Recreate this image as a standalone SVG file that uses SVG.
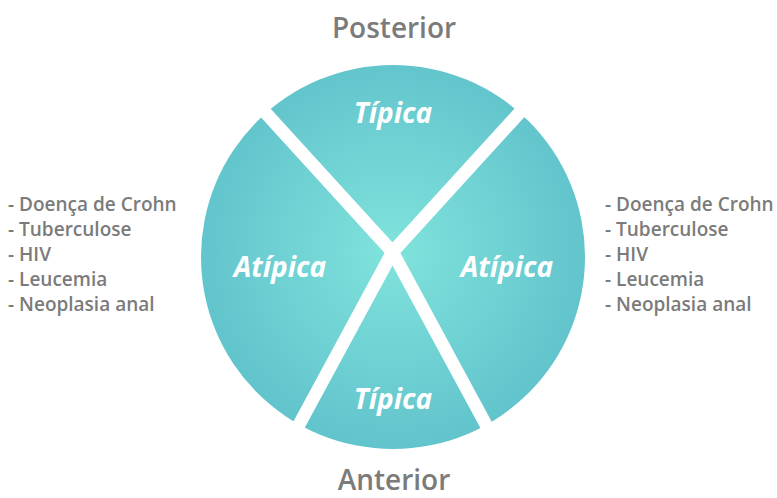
<svg xmlns="http://www.w3.org/2000/svg" width="777" height="498" viewBox="0 0 777 498">
<style>
.seg{font-family:"Open Sans","Liberation Sans",sans-serif;font-weight:700;font-style:italic;fill:#ffffff;text-anchor:middle}
.lbl{font-family:"Open Sans","Liberation Sans",sans-serif;font-weight:600;fill:#7b7b7b}
.ttl{font-family:"Open Sans","Liberation Sans",sans-serif;font-weight:600;fill:#7b7b7b;text-anchor:middle;font-size:28px}
.cut{stroke:#ffffff;stroke-width:13;fill:none;stroke-linecap:butt}
</style>
<defs>
<radialGradient id="g" cx="393" cy="252" r="195" gradientUnits="userSpaceOnUse">
<stop offset="0" stop-color="#80e3dc"/>
<stop offset="1" stop-color="#62c4cc"/>
</radialGradient>
</defs>
<g id="circle">
<circle cx="393" cy="257" r="192" fill="url(#g)"/>
</g>
<g id="connectors">
<path class="cut" d="M242 87 L392.5 252 L504 458"/>
<path class="cut" d="M543 87 L392.5 252 L281 458"/>
</g>
<g id="seg-top"><text class="seg" x="393" y="123" font-size="28">Típica</text></g>
<g id="seg-left"><text class="seg" x="280" y="277" font-size="28">Atípica</text></g>
<g id="seg-right"><text class="seg" x="507" y="277" font-size="28">Atípica</text></g>
<g id="seg-bottom"><text class="seg" x="393" y="409" font-size="28">Típica</text></g>
<g id="title-top"><text class="ttl" x="394" y="38">Posterior</text></g>
<g id="title-bottom"><text class="ttl" x="394" y="490">Anterior</text></g>
<g id="list-left" class="lbl" font-size="19">
<text x="8" y="211">- Doença de Crohn</text>
<text x="8" y="236">- Tuberculose</text>
<text x="8" y="261">- HIV</text>
<text x="8" y="286">- Leucemia</text>
<text x="8" y="311">- Neoplasia anal</text>
</g>
<g id="list-right" class="lbl" font-size="19">
<text x="605" y="211">- Doença de Crohn</text>
<text x="605" y="236">- Tuberculose</text>
<text x="605" y="261">- HIV</text>
<text x="605" y="286">- Leucemia</text>
<text x="605" y="311">- Neoplasia anal</text>
</g>
</svg>
